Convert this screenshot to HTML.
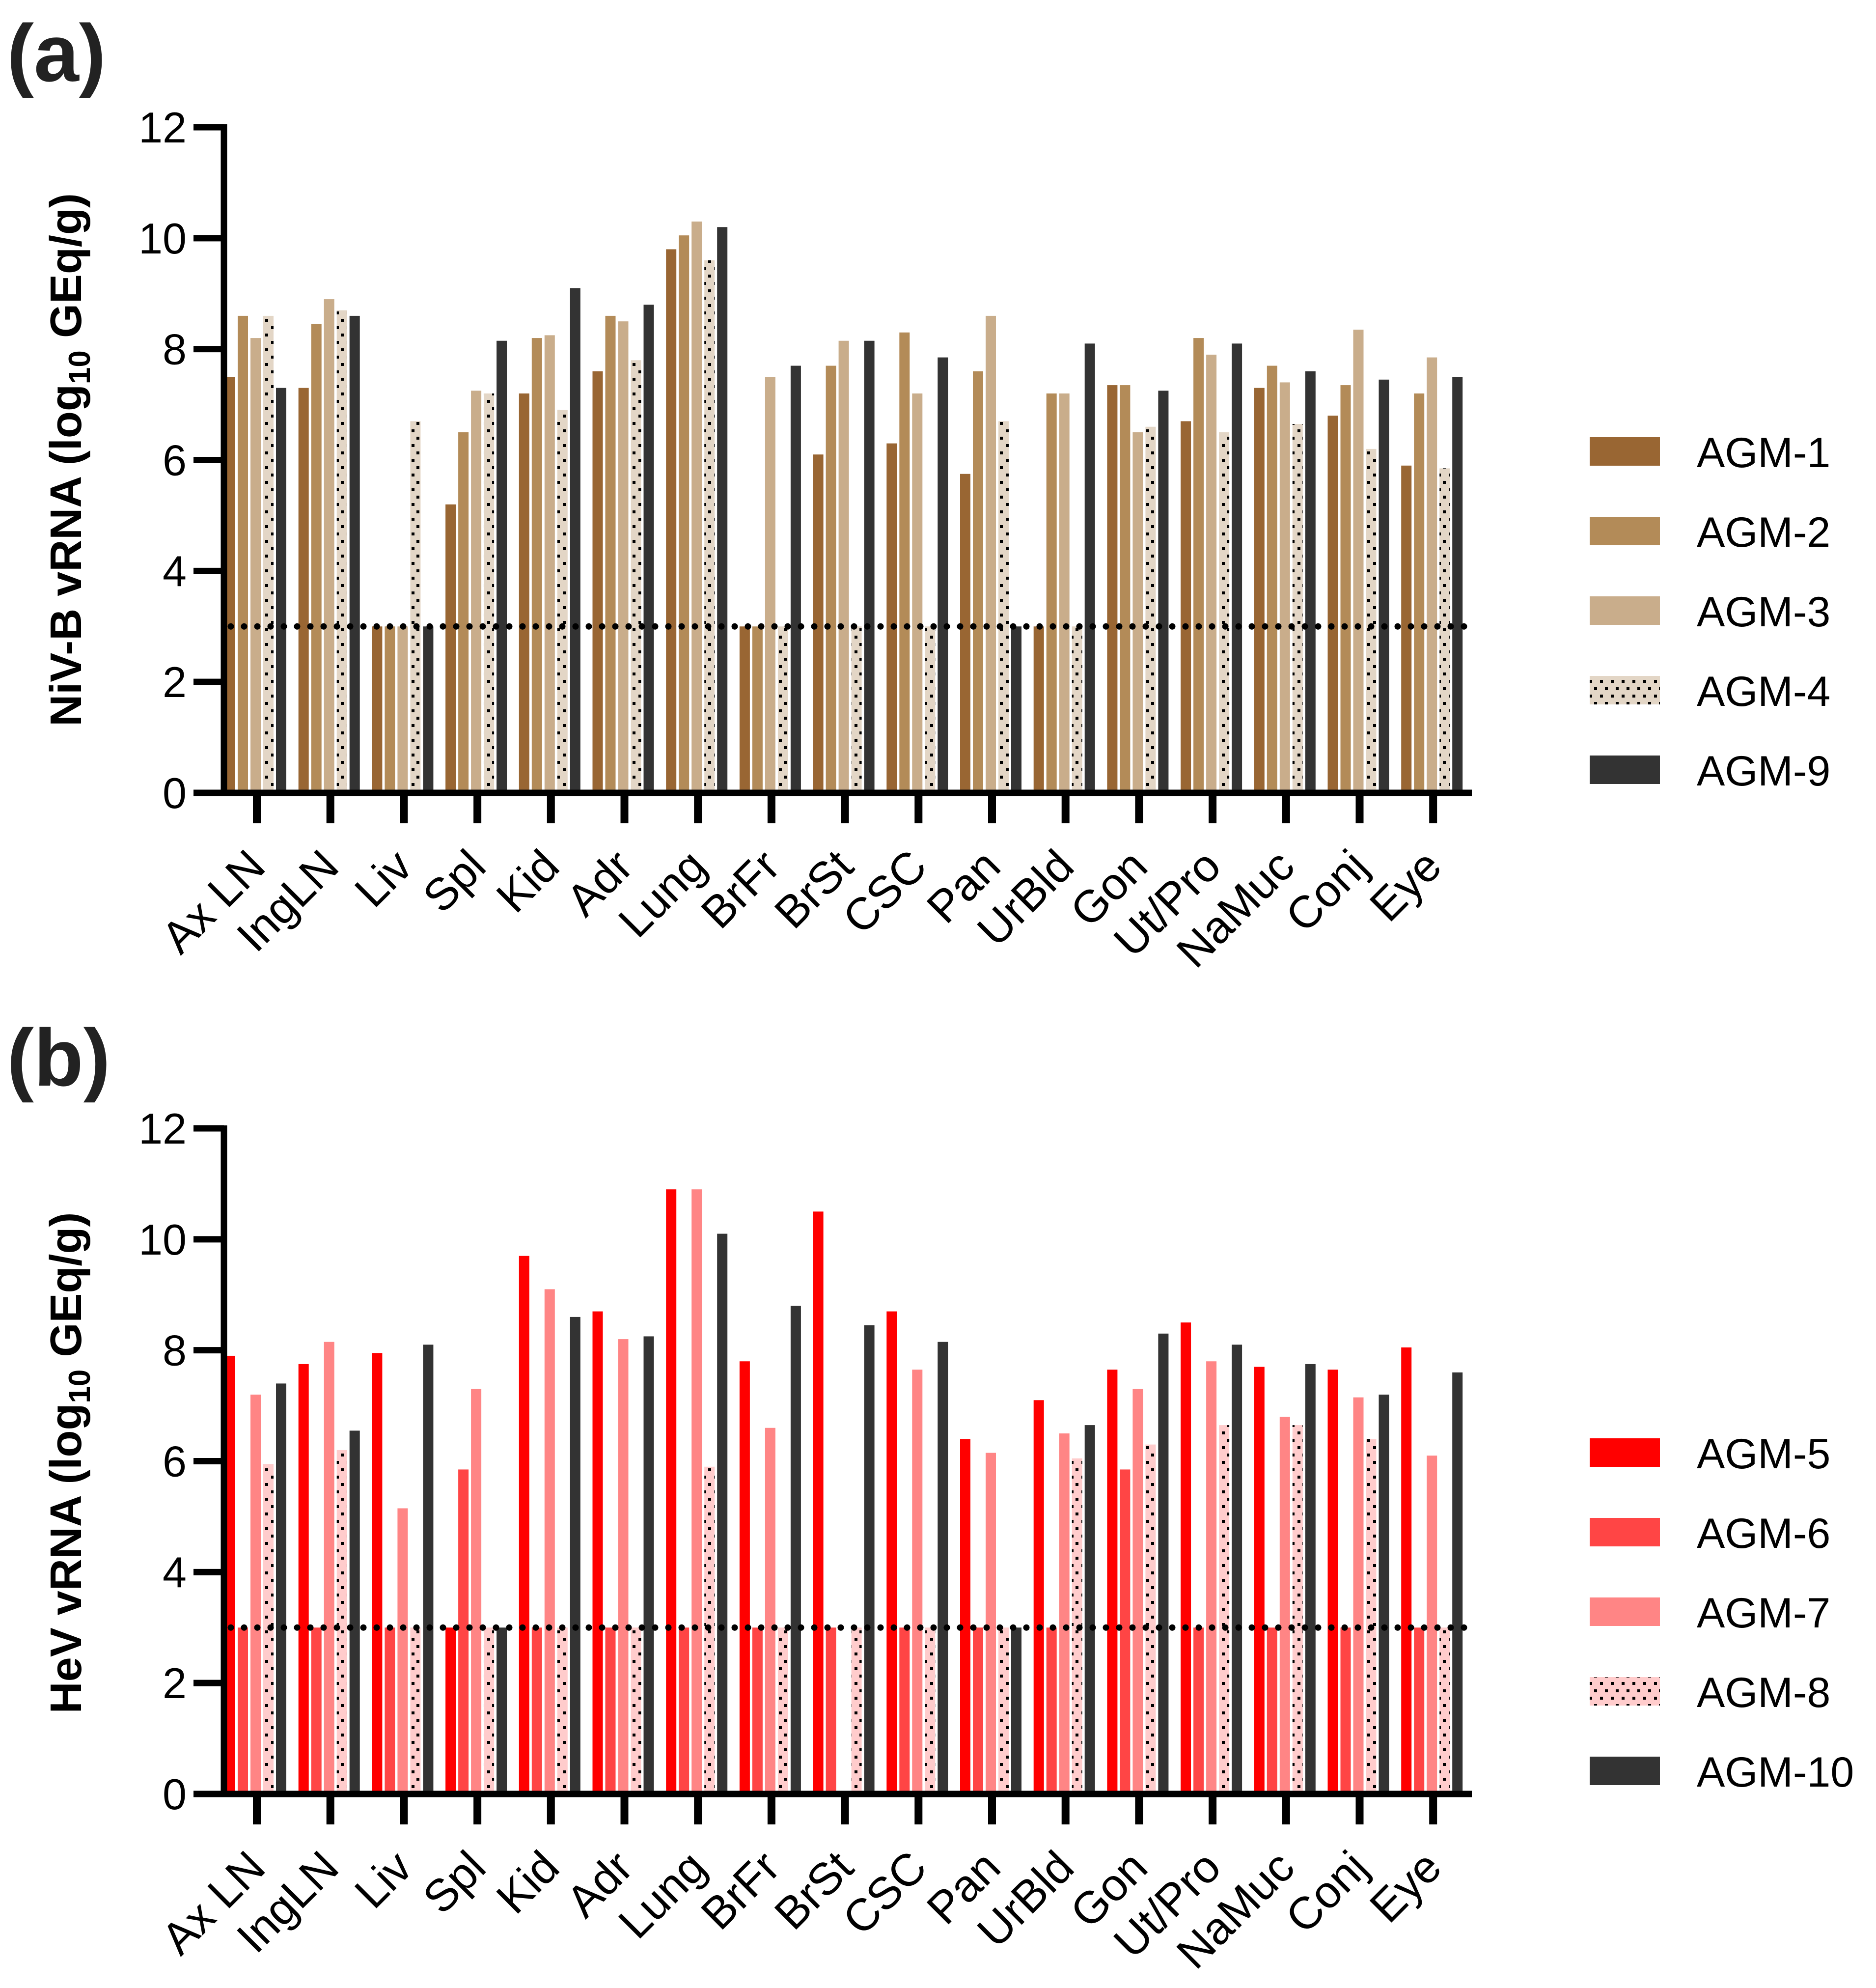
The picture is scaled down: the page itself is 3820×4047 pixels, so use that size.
<!DOCTYPE html>
<html><head><meta charset="utf-8"><style>
html,body{margin:0;padding:0;background:#fff;}
svg{display:block;font-family:"Liberation Sans",Arial,sans-serif;}
</style></head><body>
<svg id="chart" width="3820" height="4047" viewBox="0 0 3820 4047" xmlns="http://www.w3.org/2000/svg">
<defs>
<pattern id="dotsA" width="22" height="30" patternUnits="userSpaceOnUse"><rect width="22" height="30" fill="#e3d6c6"/><rect x="2" y="4" width="6" height="6" fill="#000"/><rect x="12" y="19" width="6" height="6" fill="#000"/></pattern>
<pattern id="dotsB" width="22" height="30" patternUnits="userSpaceOnUse"><rect width="22" height="30" fill="#ffcccc"/><rect x="2" y="4" width="6" height="6" fill="#000"/><rect x="12" y="19" width="6" height="6" fill="#000"/></pattern>
</defs>
</svg>
<script>
const categories = ["Ax LN","IngLN","Liv","Spl","Kid","Adr","Lung","BrFr","BrSt","CSC","Pan","UrBld","Gon","Ut/Pro","NaMuc","Conj","Eye"];
const yTicks = [0,2,4,6,8,10,12];
const namesA = ["AGM-1","AGM-2","AGM-3","AGM-4","AGM-9"];
const namesB = ["AGM-5","AGM-6","AGM-7","AGM-8","AGM-10"];
const agm1 = [7.5,7.3,3,5.2,7.2,7.6,9.8,3,6.1,6.3,5.75,3,7.35,6.7,7.3,6.8,5.9];
const agm2 = [8.6,8.45,3,6.5,8.2,8.6,10.05,3,7.7,8.3,7.6,7.2,7.35,8.2,7.7,7.35,7.2];
const agm3 = [8.2,8.9,3,7.25,8.25,8.5,10.3,7.5,8.15,7.2,8.6,7.2,6.5,7.9,7.4,8.35,7.85];
const agm4 = [8.6,8.7,6.7,7.2,6.9,7.8,9.6,3,3,3,6.7,3,6.6,6.5,6.65,6.2,5.85];
const agm9 = [7.3,8.6,3,8.15,9.1,8.8,10.2,7.7,8.15,7.85,3,8.1,7.25,8.1,7.6,7.45,7.5];
const agm5 = [7.9,7.75,7.95,3,9.7,8.7,10.9,7.8,10.5,8.7,6.4,7.1,7.65,8.5,7.7,7.65,8.05];
const agm6 = [3,3,3,5.85,3,3,3,3,3,3,3,3,5.85,3,3,3,3];
const agm7 = [7.2,8.15,5.15,7.3,9.1,8.2,10.9,6.6,0,7.65,6.15,6.5,7.3,7.8,6.8,7.15,6.1];
const agm8 = [5.95,6.2,3,3,3,3,5.9,3,3,3,3,6.05,6.3,6.65,6.65,6.4,3];
const agm10 = [7.4,6.55,8.1,3,8.6,8.25,10.1,8.8,8.45,8.15,3,6.65,8.3,8.1,7.75,7.2,7.6];
const detectionLimit = 3;

const NS="http://www.w3.org/2000/svg";
const svg=document.getElementById("chart");
function mk(tag,attrs,parent){const e=document.createElementNS(NS,tag);for(const k in attrs)e.setAttribute(k,attrs[k]);(parent||svg).appendChild(e);return e;}

const X0=456, XEND=2997, T0=523, TSTEP=149.7, BSTEP=26, BW=21;
function xTick(i){return T0+i*TSTEP;}
function xBar(i,s){return xTick(i)-65+s*BSTEP;}

function panel(cfg){
  const yS=v=>cfg.y0-(v/12)*(cfg.y0-cfg.y12);
  const g=mk("g",{});
  
  
  cfg.series.forEach((vals,s)=>{
    vals.forEach((v,i)=>{
      if(v<=0)return;
      const r=mk("rect",{x:xBar(i,s),y:yS(v),width:BW,height:yS(0)-yS(v),fill:cfg.fills[s]},g);
      
      
    });
  });
  const dl=mk("line",{x1:X0+14,x2:XEND-10,y1:yS(detectionLimit),y2:yS(detectionLimit),stroke:"#000","stroke-width":13,"stroke-dasharray":"0 27","stroke-linecap":"round"},g);
  
  
  const ya=mk("line",{x1:X0,x2:X0,y1:yS(12)-6,y2:yS(0)+6,stroke:"#000","stroke-width":13},g);
  
  
  const xa=mk("line",{x1:X0-6,x2:XEND,y1:yS(0),y2:yS(0),stroke:"#000","stroke-width":13},g);
  
  
  yTicks.forEach(t=>{
    const tl=mk("line",{x1:X0-62,x2:X0,y1:yS(t),y2:yS(t),stroke:"#000","stroke-width":13},g);
    
    
    const tx=mk("text",{x:X0-76,y:yS(t)+31,"text-anchor":"end","font-size":88,fill:"#000"},g);
    tx.textContent=t;
    
    
  });
  categories.forEach((c,i)=>{
    const tl=mk("line",{x1:xTick(i),x2:xTick(i),y1:yS(0),y2:yS(0)+62,stroke:"#000","stroke-width":16},g);
    
    
    const tx=mk("text",{"text-anchor":"end","font-size":92,fill:"#000",transform:`translate(${xTick(i)+22},${yS(0)+155}) rotate(-45)`},g);
    tx.textContent=c;
    
    
  });
  const yt=mk("text",{"text-anchor":"middle","font-size":90,"font-weight":"bold",fill:"#000",transform:`translate(165,${cfg.titleY}) rotate(-90)`},g);
  yt.innerHTML=cfg.title+' (log<tspan font-size="62" dy="18">10</tspan><tspan dy="-18"> GEq/g)</tspan>';
  
  
  const pl=mk("text",{x:14,y:cfg.letterY,"font-size":165,"font-weight":"bold",fill:"#222"},g);
  pl.textContent=cfg.letter;
  
  
  cfg.names.forEach((n,s)=>{
    const ly=cfg.legY+s*162;
    const sw=mk("rect",{x:3237,y:ly-30,width:143,height:58,fill:cfg.fills[s]},g);
    
    
    const lt=mk("text",{x:3455,y:ly+31,"font-size":86,fill:"#000"},g);
    lt.textContent=n;
    
    
  });
}
panel({id:"panel-a",y0:1614,y12:259,series:[agm1,agm2,agm3,agm4,agm9],names:namesA,
  fills:["#996633","#b38b58","#c9ad8b","url(#dotsA)","#333333"],title:"NiV-B vRNA",titleY:936,letter:"(a)",letterY:165,legY:920});
panel({id:"panel-b",y0:3652,y12:2297,series:[agm5,agm6,agm7,agm8,agm10],names:namesB,
  fills:["#ff0000","#ff4545","#ff8585","url(#dotsB)","#333333"],title:"HeV vRNA",titleY:2978,letter:"(b)",letterY:2210,legY:2958});
</script>
</body></html>
